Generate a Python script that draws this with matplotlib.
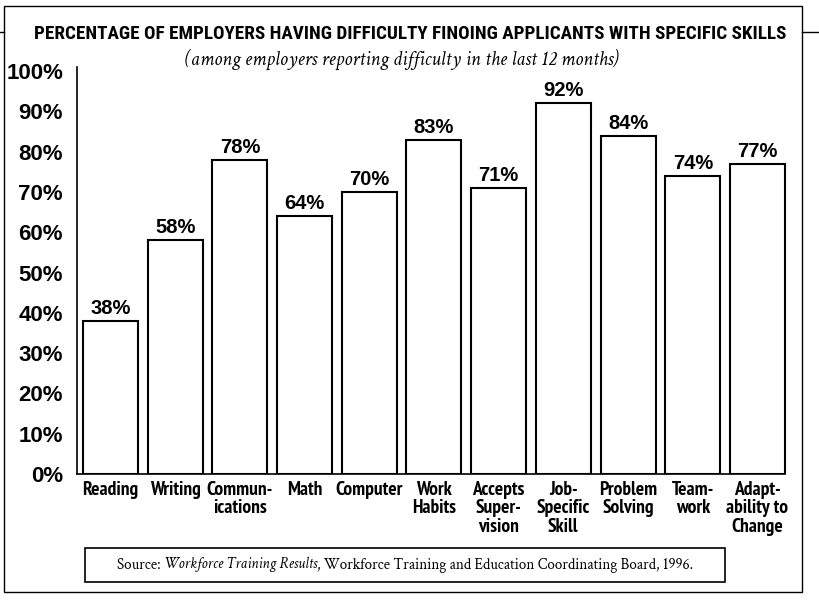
import matplotlib
matplotlib.use("Agg")
import matplotlib.pyplot as plt
from matplotlib.patches import Rectangle
from matplotlib.lines import Line2D

# data
skills = ["Reading", "Writing", "Commun-\nications", "Math", "Computer",
          "Work\nHabits", "Accepts\nSuper-\nvision", "Job-\nSpecific\nSkill",
          "Problem\nSolving", "Team-\nwork", "Adapt-\nability to\nChange"]
pct = [38, 58, 78, 64, 70, 83, 71, 92, 84, 74, 77]
yticks = [0, 10, 20, 30, 40, 50, 60, 70, 80, 90, 100]

TITLE = "PERCENTAGE OF EMPLOYERS HAVING DIFFICULTY FINOING APPLICANTS WITH SPECIFIC SKILLS"
SUBTITLE = "(among employers reporting difficulty in the last 12 months)"
SOURCE = ["Source: ", "Workforce Training Results",
          ", Workforce Training and Education Coordinating Board, 1996."]

NARROW = ["PT Sans Narrow", "Roboto Condensed", "DejaVu Sans"]
HEAD = ["Roboto Condensed", "PT Sans Narrow", "DejaVu Sans"]
NUMS = ["Liberation Sans", "DejaVu Sans"]
SERIF = ["Crimson Text", "EB Garamond", "Liberation Serif", "DejaVu Serif"]

W, H = 819, 614
fig = plt.figure(figsize=(W / 100, H / 100), dpi=100)


def fx(px):
    return px / W


def fy(py):
    return 1 - py / H


# axes placed in pixel terms
ax = fig.add_axes([fx(77), fy(474), fx(795 - 77), (474 - 67) / H])
x = list(range(len(pct)))
ax.bar(x, pct, width=0.85, color="white", edgecolor="black", linewidth=1.5)
ax.set_xlim(-0.518, 10.58)
ax.set_ylim(0, 101)

for i, v in zip(x, pct):
    ax.annotate("%d%%" % v, xy=(i, v), xytext=(0, 2), textcoords="offset points",
                ha="center", va="bottom", fontsize=14.5, fontweight="bold", family=NUMS)

for i, s in zip(x, skills):
    ax.annotate(s, xy=(i, 0), xytext=(0, -5), textcoords="offset points",
                ha="center", va="top", fontsize=14, fontweight="bold", family=NARROW,
                linespacing=1.02)

ax.set_xticks([])
ax.set_yticks(yticks)
ax.set_yticklabels(["%d%%" % t for t in yticks], fontsize=16, fontweight="bold", family=NUMS)
ax.tick_params(axis="y", length=0, pad=10)
for side in ["top", "right"]:
    ax.spines[side].set_visible(False)
ax.spines["left"].set_linewidth(1.2)
ax.spines["bottom"].set_linewidth(1.2)
ax.spines["bottom"].set_bounds(-0.518, 10.43)

# titles
fig.text(fx(410), fy(34), TITLE, ha="center", va="center", fontsize=13.8,
         fontweight="bold", family=HEAD)
fig.text(fx(402), fy(59), SUBTITLE, ha="center", va="center", fontsize=14.5,
         style="italic", family=SERIF)

# source line, mixed roman / italic pieces chained left to right
t1 = fig.text(fx(117), fy(565), SOURCE[0], ha="left", va="center", fontsize=10.9, family=SERIF)
t2 = ax.annotate(SOURCE[1], xy=(1, 0), xycoords=t1, ha="left", va="bottom",
                 fontsize=10.9, family=SERIF, style="italic", annotation_clip=False)
t3 = ax.annotate(SOURCE[2], xy=(1, 0), xycoords=t2, ha="left", va="bottom",
                 fontsize=10.9, family=SERIF, annotation_clip=False)

# boxes and frame
fig.patches.append(Rectangle((fx(85), fy(582)), fx(725 - 85), (582 - 548) / H,
                             transform=fig.transFigure, fill=False, lw=1.2, ec="black"))
fig.patches.append(Rectangle((fx(4), fy(592)), fx(802 - 4), (592 - 6) / H,
                             transform=fig.transFigure, fill=False, lw=1.0, ec="black"))
fig.lines.append(Line2D([0, fx(4)], [fy(32), fy(32)], transform=fig.transFigure, lw=1.0, color="black"))
fig.lines.append(Line2D([fx(802), 1], [fy(32), fy(32)], transform=fig.transFigure, lw=1.0, color="black"))

fig.savefig("out.png", dpi=100)
